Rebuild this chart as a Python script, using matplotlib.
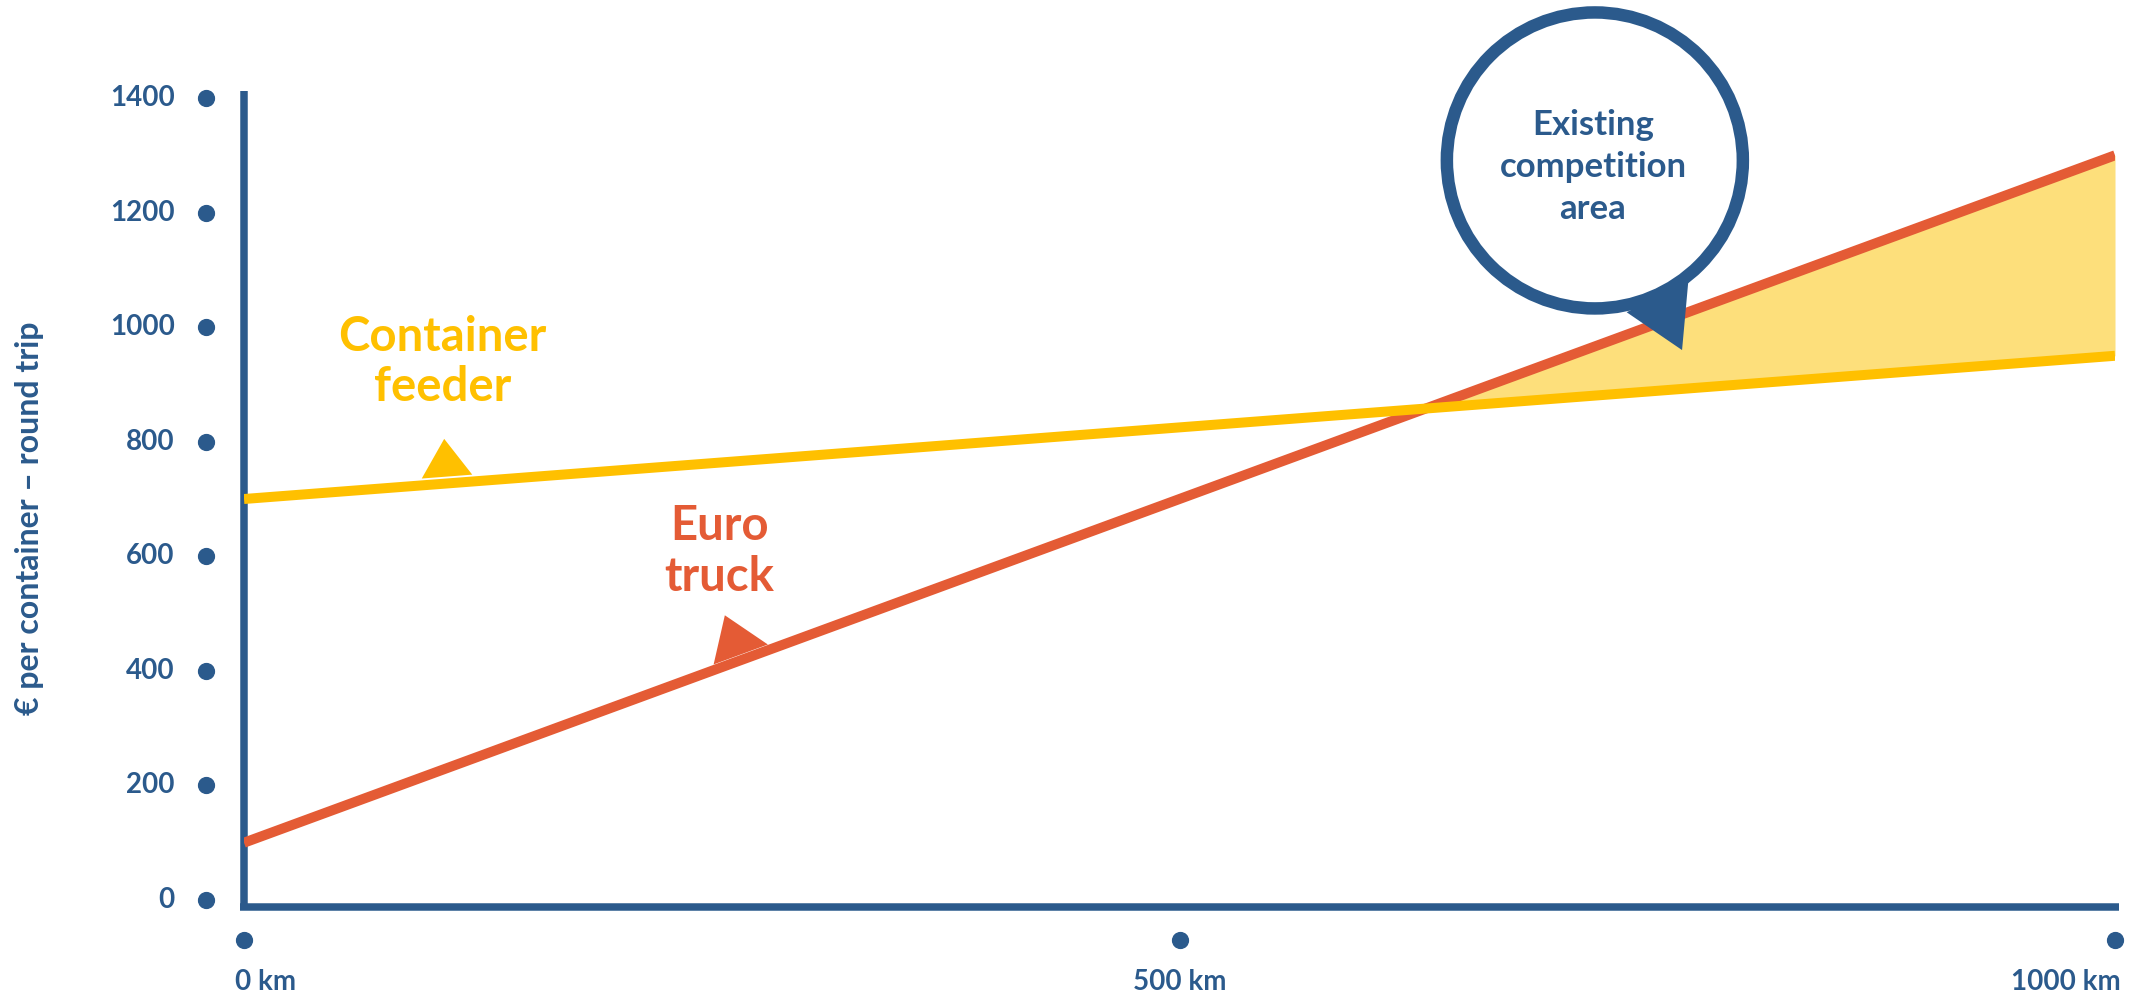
import matplotlib.pyplot as plt
from matplotlib.patches import Ellipse, Polygon
import numpy as np

# values
distance_km = [0, 1000]
feeder_cost = [700, 950]
truck_cost = [100, 1300]
y_ticks = [0, 200, 400, 600, 800, 1000, 1200, 1400]
x_ticks = [0, 500, 1000]
x_tick_labels = ["0 km", "500 km", "1000 km"]

BLUE = "#2B5A8C"
YELLOW = "#FFC000"
RED = "#E45B35"
FILL = "#FDDF7B"

plt.rcParams['font.family'] = ['Lato', 'DejaVu Sans']
plt.rcParams['font.weight'] = 'bold'

W, H = 2134, 997
fig = plt.figure(figsize=(W / 100, H / 100), dpi=100)
ax = fig.add_axes([244 / W, 97 / H, 1871 / W, 802 / H])
ax.set_xlim(0, 1000)
ax.set_ylim(0, 1400)
ax.axis('off')

# hand-drawn style axes
ax.plot([0, 0], [-17, 1412], color=BLUE, lw=5.4, solid_capstyle='butt', clip_on=False)
ax.plot([-2, 1002], [-11.5, -11.5], color=BLUE, lw=5.4, solid_capstyle='butt', clip_on=False)

# dot ticks
ax.scatter(np.full(len(y_ticks), -20.3), y_ticks, s=130, color=BLUE, clip_on=False, zorder=5)
ax.scatter(x_ticks, np.full(len(x_ticks), -70), s=130, color=BLUE, clip_on=False, zorder=5)
for v in y_ticks:
    ax.text(-37, v, str(v), ha='right', va='center', fontsize=20, color=BLUE)
aligns = ['left', 'center', 'right']
offsets = [-5, 0, 3]
for x, lab, ha, off in zip(x_ticks, x_tick_labels, aligns, offsets):
    ax.text(x + off, -143, lab, ha=ha, va='center', fontsize=20, color=BLUE)

fig.text(0.014, 0.48, "€ per container – round trip", rotation=90, ha='center', va='center',
         fontsize=23, color=BLUE)

# competition area
ax.fill_between(distance_km, truck_cost, feeder_cost,
                where=np.array(truck_cost) > np.array(feeder_cost),
                interpolate=True, color=FILL, lw=0, zorder=1)
ax.plot(distance_km, truck_cost, color=RED, lw=7.2, solid_capstyle='butt', zorder=3)
ax.plot(distance_km, feeder_cost, color=YELLOW, lw=7.2, solid_capstyle='butt', zorder=4)

# label pointers sitting on the lines
def on_line(xs, ys, x):
    return np.interp(x, xs, ys)

fx = [95, 107, 122]
ax.add_patch(Polygon([(fx[0], on_line(distance_km, feeder_cost, fx[0]) + 12), (fx[1], 805),
                      (fx[2], on_line(distance_km, feeder_cost, fx[2]) + 12)],
                     closed=True, color=YELLOW, lw=0, zorder=4))
tx = [251, 257, 280]
ax.add_patch(Polygon([(tx[0], on_line(distance_km, truck_cost, tx[0]) + 10), (tx[1], 497),
                      (tx[2], on_line(distance_km, truck_cost, tx[2]) + 10)],
                     closed=True, color=RED, lw=0, zorder=3))

ax.text(106, 939, "Container\nfeeder", ha='center', va='center', fontsize=34,
        color=YELLOW, linespacing=1.18)
ax.text(254, 608, "Euro\ntruck", ha='center', va='center', fontsize=34,
        color=RED, linespacing=1.18)

# speech bubble
ax.add_patch(Ellipse((722, 1291), 158.2, 516.7, facecolor='white', edgecolor=BLUE,
                     lw=9, clip_on=False, zorder=6))
ax.add_patch(Polygon([(739, 1026), (772, 1082), (768.6, 960)], closed=True,
                     color=BLUE, lw=0, clip_on=False, zorder=7))
ax.text(721, 1280, "Existing\ncompetition\narea", ha='center', va='center', fontsize=25,
        color=BLUE, linespacing=1.38, zorder=8)

fig.savefig("out.png", dpi=100)
